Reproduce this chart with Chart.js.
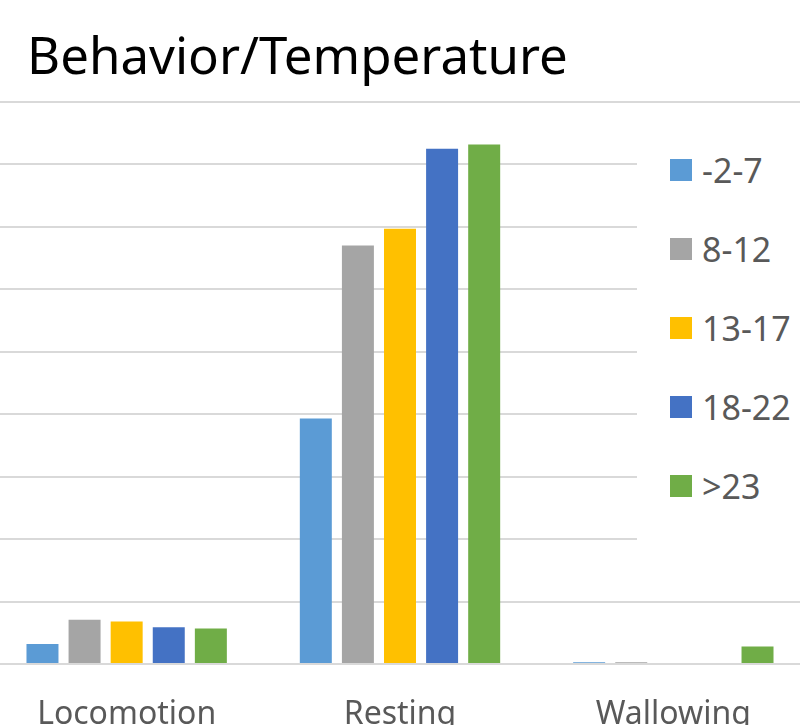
<!DOCTYPE html>
<html>
<head>
<meta charset="utf-8">
<script src="https://cdn.jsdelivr.net/npm/chart.js@4"></script>
<style>
  body { margin: 0; background: #fff; }
  #wrap { position: relative; width: 800px; height: 725px; overflow: hidden; font-family: "Noto Sans", sans-serif; }
  #chart { position: absolute; left: -10px; top: 0; }
  #title { position: absolute; left: 27px; top: 24px; font-size: 51px; color: #000; white-space: nowrap; line-height: 60px; }
  #legend { position: absolute; left: 637px; top: 118px; width: 163px; height: 462px; background: #fff; }
  .item { position: absolute; left: 33px; height: 40px; display: flex; align-items: center; font-size: 34px; color: #595959; }
  .item span.box { width: 22px; height: 22px; margin-right: 10px; display: inline-block; }
</style>
</head>
<body>
<div id="wrap">
  <canvas id="chart" width="820" height="725"></canvas>
  <div id="title">Behavior/Temperature</div>
  <div id="legend"></div>
</div>
<script>
// カテゴリと系列（目盛り単位で読み取り）
const categories = ['Locomotion', 'Resting', 'Wallowing'];
const seriesNames = ['-2-7', '8-12', '13-17', '18-22', '>23'];
const seriesColors = ['#5B9BD5', '#A5A5A5', '#FFC000', '#4472C4', '#70AD47'];
const temp_m2_7 = [0.32, 3.93, 0.03];
const temp_8_12 = [0.71, 6.70, 0.03];
const temp_13_17 = [0.68, 6.97, 0.015];
const temp_18_22 = [0.59, 8.25, 0];
const temp_23 = [0.57, 8.32, 0.28];
const yMax = 9;
const yStep = 1;

const seriesValues = [temp_m2_7, temp_8_12, temp_13_17, temp_18_22, temp_23];

const ctx = document.getElementById('chart').getContext('2d');
const chart = new Chart(ctx, {
    type: 'bar',
    data: {
        labels: categories,
        datasets: seriesNames.map((name, i) => ({
            label: name,
            data: seriesValues[i],
            backgroundColor: seriesColors[i],
            borderWidth: 0,
            barPercentage: 0.76,
            categoryPercentage: 0.77
        }))
    },
    options: {
        responsive: false,
        animation: false,
        layout: { padding: { top: 102, left: 0, right: 0, bottom: 0 } },
        plugins: {
            legend: { display: false },
            tooltip: { enabled: false }
        },
        scales: {
            x: {
                grid: { display: false },
                border: { display: false },
                ticks: {
                    color: '#595959',
                    font: { family: 'Noto Sans', size: 32 },
                    padding: 24
                },
                afterFit: scale => { scale.height = 61; }
            },
            y: {
                min: 0,
                max: yMax,
                ticks: { display: false, stepSize: yStep },
                border: { display: false },
                grid: { color: '#D9D9D9', lineWidth: 2, drawTicks: false },
                afterFit: scale => { scale.width = 0; }
            }
        }
    }
});

// 凡例を作る
const legendEl = document.getElementById('legend');
chart.data.datasets.forEach((ds, i) => {
    const item = document.createElement('div');
    item.className = 'item';
    item.style.top = (32 + i * 79) + 'px';
    item.innerHTML = `<span class="box" style="background:${ds.backgroundColor}"></span>${ds.label.replace('>', '&gt;')}`;
    legendEl.appendChild(item);
});
</script>
</body>
</html>
